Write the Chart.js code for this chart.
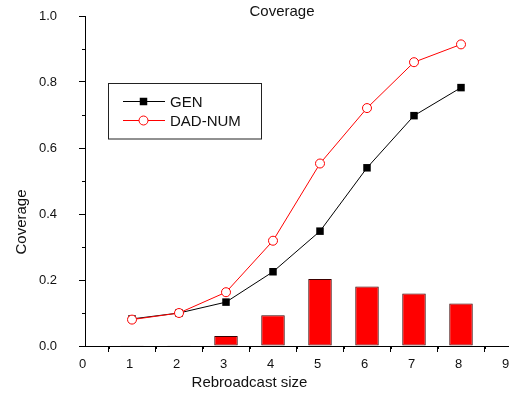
<!DOCTYPE html>
<html>
<head>
<meta charset="utf-8">
<script src="https://cdn.jsdelivr.net/npm/chart.js@4.4.1/dist/chart.umd.min.js"></script>
<style>
html,body{margin:0;padding:0;background:#fff;}
#wrap{width:509px;height:393px;position:relative;}
</style>
</head>
<body>
<div id="wrap"><canvas id="c" width="509" height="393"></canvas></div>
<script>
// ---- data ----
const sizes = [1, 2, 3, 4, 5, 6, 7, 8];
const genValues = [0.082, 0.100, 0.133, 0.225, 0.348, 0.540, 0.698, 0.783];
const dadNumValues = [0.080, 0.100, 0.163, 0.319, 0.553, 0.721, 0.860, 0.914];
const barValues = [0.001, 0.002, 0.030, 0.093, 0.203, 0.180, 0.159, 0.129];
const seriesNames = ['GEN', 'DAD-NUM'];
const chartTitle = 'Coverage';
const xTitle = 'Rebroadcast size';
const yTitle = 'Coverage';
const xTicks = [0, 1, 2, 3, 4, 5, 6, 7, 8, 9];
const yTicks = [0.0, 0.2, 0.4, 0.6, 0.8, 1.0];

const FONT = '"Liberation Sans", Arial, sans-serif';
const TXT = '#111';

function pts(vals) { return sizes.map((x, i) => ({ x: x, y: vals[i] })); }

const extras = {
  id: 'extras',
  afterDraw(chart) {
    const ctx = chart.ctx;
    const xs = chart.scales.x, ys = chart.scales.y;
    const area = chart.chartArea;
    ctx.save();
    // minor ticks
    ctx.strokeStyle = '#000';
    ctx.lineWidth = 1;
    ctx.beginPath();
    for (let i = 0; i < xTicks.length - 1; i++) {
      const v = (xTicks[i] + xTicks[i + 1]) / 2;
      const px = Math.round(xs.getPixelForValue(v)) + 0.5;
      ctx.moveTo(px, area.bottom);
      ctx.lineTo(px, area.bottom + 3);
    }
    for (let i = 0; i < yTicks.length - 1; i++) {
      const v = (yTicks[i] + yTicks[i + 1]) / 2;
      const py = Math.round(ys.getPixelForValue(v)) + 0.5;
      ctx.moveTo(area.left - 3, py);
      ctx.lineTo(area.left, py);
    }
    ctx.stroke();

    // titles
    ctx.fillStyle = TXT;
    ctx.font = '15px ' + FONT;
    ctx.textAlign = 'center';
    ctx.textBaseline = 'alphabetic';
    ctx.fillText(chartTitle, 282, 15.5);
    ctx.fillText(xTitle, 249.5, 387);
    ctx.save();
    ctx.translate(25.5, 222);
    ctx.rotate(-Math.PI / 2);
    ctx.fillText(yTitle, 0, 0);
    ctx.restore();

    // legend
    ctx.strokeStyle = '#222';
    ctx.lineWidth = 1;
    ctx.strokeRect(108.5, 83.5, 153, 55.5);
    const rows = [101.5, 120.5];
    const dsIdx = [0, 1];
    dsIdx.forEach((di, r) => {
      const ds = chart.data.datasets[di];
      const y = rows[r];
      ctx.strokeStyle = ds.borderColor;
      ctx.lineWidth = 1;
      ctx.beginPath();
      ctx.moveTo(123, y);
      ctx.lineTo(165, y);
      ctx.stroke();
      ctx.fillStyle = ds.pointBackgroundColor;
      ctx.strokeStyle = ds.pointBorderColor;
      if (ds.pointStyle === 'rect') {
        const s = ds.pointRadius * Math.SQRT1_2;
        ctx.fillRect(143.5 - s, y - s, 2 * s, 2 * s);
      } else {
        ctx.beginPath();
        ctx.arc(143.5, y, ds.pointRadius, 0, Math.PI * 2);
        ctx.fill();
        ctx.stroke();
      }
      ctx.fillStyle = TXT;
      ctx.font = '15px ' + FONT;
      ctx.textAlign = 'left';
      ctx.textBaseline = 'alphabetic';
      ctx.fillText(ds.label, 170, y + 5.5);
    });
    ctx.restore();
  }
};

new Chart(document.getElementById('c'), {
  type: 'bar',
  data: {
    datasets: [
      {
        type: 'line', label: seriesNames[0], data: pts(genValues), order: 1,
        borderColor: '#000', borderWidth: 1, backgroundColor: '#000',
        pointStyle: 'rect', pointRadius: 5.3, pointBackgroundColor: '#000',
        pointBorderColor: '#000', pointBorderWidth: 0, tension: 0, fill: false
      },
      {
        type: 'line', label: seriesNames[1], data: pts(dadNumValues), order: 0,
        borderColor: '#ff0000', borderWidth: 1, backgroundColor: '#fff',
        pointStyle: 'circle', pointRadius: 4.5, pointBackgroundColor: '#fff',
        pointBorderColor: '#ff0000', pointBorderWidth: 1, tension: 0, fill: false
      },
      {
        type: 'bar', label: 'bars', data: pts(barValues), order: 5,
        backgroundColor: '#ff0000', borderColor: '#3a0000', borderWidth: 1,
        borderSkipped: false, barPercentage: 0.5, categoryPercentage: 1.0
      }
    ]
  },
  options: {
    responsive: false,
    animation: false,
    devicePixelRatio: 1,
    layout: { autoPadding: false, padding: { top: 16, right: 1, left: 0, bottom: 0 } },
    plugins: { legend: { display: false }, title: { display: false }, tooltip: { enabled: false } },
    scales: {
      x: {
        type: 'linear', min: 0, max: 9, offset: false,
        afterBuildTicks(s) { s.ticks = xTicks.map(v => ({ value: v })); },
        afterFit(s) { s.height = 47; s.paddingLeft = 0; s.paddingRight = 0; },
        grid: { display: true, drawOnChartArea: false, drawTicks: true, tickLength: 6, color: '#000', tickWidth: 1 },
        border: { display: true, color: '#000', width: 1 },
        ticks: { color: TXT, font: { family: FONT, size: 13 }, padding: 5, labelOffset: -2.5, maxRotation: 0, autoSkip: false,
          callback: v => String(v) }
      },
      y: {
        type: 'linear', min: 0, max: 1.0,
        afterBuildTicks(s) { s.ticks = yTicks.map(v => ({ value: v })); },
        afterFit(s) { s.width = 85; s.paddingTop = 0; s.paddingBottom = 0; },
        grid: { display: true, drawOnChartArea: false, drawTicks: true, tickLength: 6, color: '#000', tickWidth: 1 },
        border: { display: true, color: '#000', width: 1 },
        ticks: { color: TXT, font: { family: FONT, size: 13 }, padding: 22, autoSkip: false,
          callback: v => Number(v).toFixed(1) }
      }
    }
  },
  plugins: [extras]
});
</script>
</body>
</html>
